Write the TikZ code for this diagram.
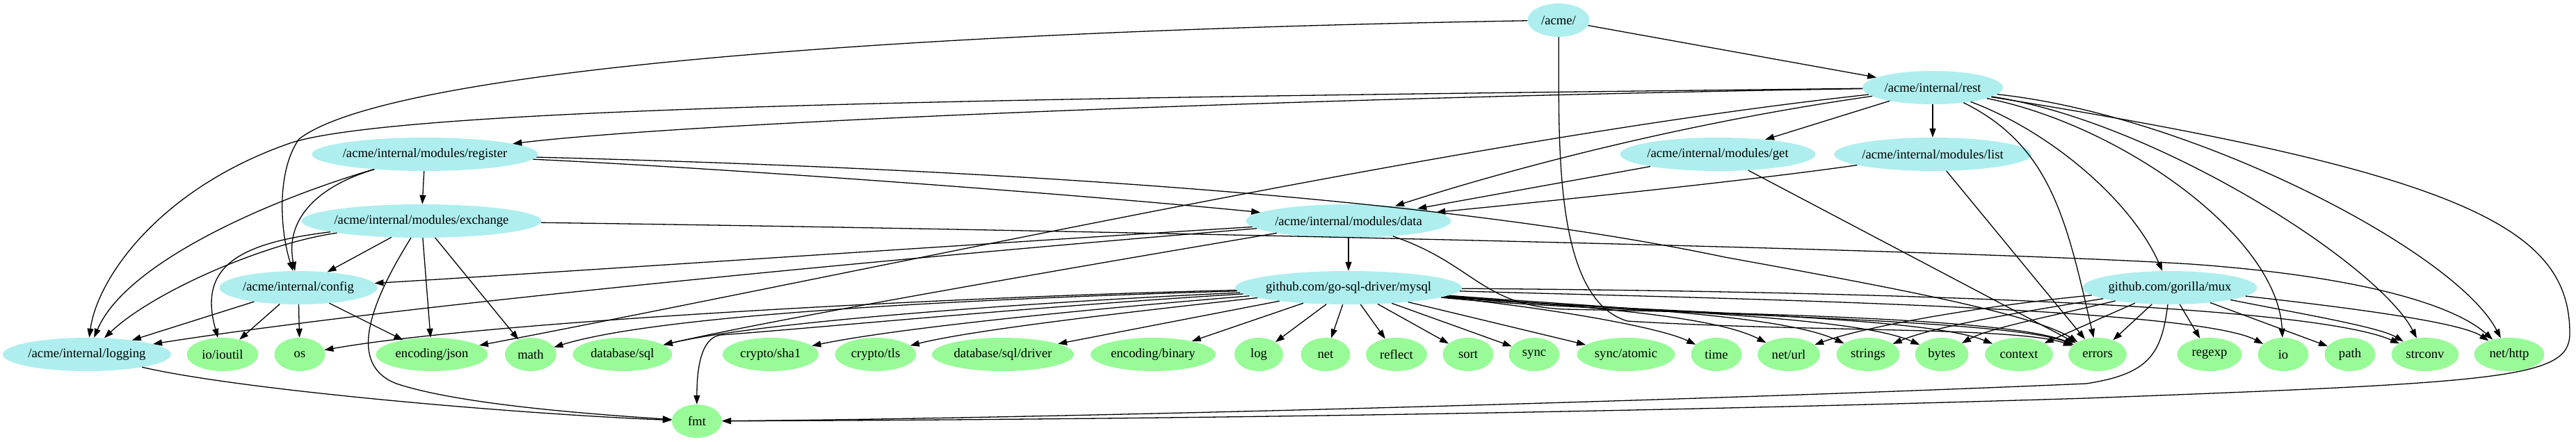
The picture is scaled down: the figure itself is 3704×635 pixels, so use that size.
\documentclass[tikz,border=0pt]{standalone}
\usepackage{fontspec}
\setmainfont{Liberation Serif}
\usetikzlibrary{shapes.geometric,arrows.meta}
\definecolor{gvblue}{HTML}{AFEEEE}
\definecolor{gvgreen}{HTML}{98FB98}
\tikzset{
  every node/.style={font=\fontsize{18.67}{22}\selectfont},
  mod/.style={ellipse, fill=gvblue, inner xsep=-8pt, inner ysep=0pt, minimum height=48pt},
  lib/.style={ellipse, fill=gvgreen, inner xsep=-8pt, inner ysep=0pt, minimum height=48pt},
  dep/.style={-{Triangle[length=13pt,width=9pt]}, line width=1.3pt},
}
\begin{document}
\begin{tikzpicture}[x=1pt,y=-1pt]
\useasboundingbox (0,0) rectangle (3704,635);
% modules
\node[mod, minimum width=89pt]  (acme)     at (2241,29)  {/acme/};
\node[mod, minimum width=202pt] (rest)     at (2779,126) {/acme/internal/rest};
\node[mod, minimum width=325pt] (register) at (611,222)  {/acme/internal/modules/register};
\node[mod, minimum width=281pt] (get)      at (2470,222) {/acme/internal/modules/get};
\node[mod, minimum width=284pt] (list)     at (2779,222) {/acme/internal/modules/list};
\node[mod, minimum width=345pt] (exchange) at (606,318)  {/acme/internal/modules/exchange};
\node[mod, minimum width=295pt] (data)     at (1939,318) {/acme/internal/modules/data};
\node[mod, minimum width=227pt] (config)   at (429,414)  {/acme/internal/config};
\node[mod, minimum width=326pt] (mysql)    at (1939,414) {github.com/go-sql-driver/mysql};
\node[mod, minimum width=251pt] (mux)      at (3120,414) {github.com/gorilla/mux};
\node[mod, minimum width=242pt] (logging)  at (125,510)  {/acme/internal/logging};
% libraries
\node[lib, minimum width=103pt] (ioutil)  at (320,510)  {io/ioutil};
\node[lib, minimum width=73pt]  (os)      at (431,510)  {os};
\node[lib, minimum width=161pt] (json)    at (621,510)  {encoding/json};
\node[lib, minimum width=74pt]  (math)    at (763,510)  {math};
\node[lib, minimum width=143pt] (dbsql)   at (895,510)  {database/sql};
\node[lib, minimum width=138pt] (sha1)    at (1108,510) {crypto/sha1};
\node[lib, minimum width=117pt] (tls)     at (1259,510) {crypto/tls};
\node[lib, minimum width=204pt] (driver)  at (1442,510) {database/sql/driver};
\node[lib, minimum width=180pt] (binary)  at (1658,510) {encoding/binary};
\node[lib, minimum width=70pt]  (log)     at (1810,510) {log};
\node[lib, minimum width=71pt]  (net)     at (1906,510) {net};
\node[lib, minimum width=88pt]  (reflect) at (2008,510) {reflect};
\node[lib, minimum width=73pt]  (sort)    at (2111,510) {sort};
\node[lib, minimum width=73pt]  (sync)    at (2206,510) {sync};
\node[lib, minimum width=141pt] (atomic)  at (2338,510) {sync/atomic};
\node[lib, minimum width=73pt]  (time)    at (2468,510) {time};
\node[lib, minimum width=90pt]  (url)     at (2572,510) {net/url};
\node[lib, minimum width=91pt]  (strings) at (2686,510) {strings};
\node[lib, minimum width=77pt]  (bytes)   at (2792,510) {bytes};
\node[lib, minimum width=98pt]  (context) at (2903,510) {context};
\node[lib, minimum width=84pt]  (errors)  at (3016,510) {errors};
\node[lib, minimum width=93pt]  (regexp)  at (3177,510) {regexp};
\node[lib, minimum width=73pt]  (io)      at (3283,510) {io};
\node[lib, minimum width=73pt]  (path)    at (3379,510) {path};
\node[lib, minimum width=97pt]  (strconv) at (3487,510) {strconv};
\node[lib, minimum width=101pt] (http)    at (3608,510) {net/http};
\node[lib, minimum width=72pt]  (fmt)     at (1002,606) {fmt};

% /acme/
\draw[dep] (acme) -- (rest);
\draw[dep] (acme) .. controls (1300,45) and (560,100) .. (430,200) .. controls (398,245) and (402,330) .. (config);
\draw[dep] (acme) .. controls (2242,200) and (2232,430) .. (2340,462) .. controls (2600,478) and (2900,470) .. (errors);
% rest
\draw[dep] (rest) .. controls (1900,140) and (1000,175) .. (register);
\draw[dep] (rest) .. controls (1600,140) and (600,150) .. (420,205) .. controls (230,270) and (140,400) .. (logging);
\draw[dep] (rest) -- (get);
\draw[dep] (rest) -- (list);
\draw[dep] (rest) .. controls (2400,180) and (2150,250) .. (data);
\draw[dep] (rest) .. controls (2100,200) and (1300,380) .. (json);
\draw[dep] (rest) .. controls (2950,210) and (2972,320) .. (errors);
\draw[dep] (rest) .. controls (2950,190) and (3065,290) .. (mux);
\draw[dep] (rest) .. controls (3050,180) and (3275,340) .. (io);
\draw[dep] (rest) .. controls (3100,175) and (3420,380) .. (strconv);
\draw[dep] (rest) .. controls (3150,165) and (3530,360) .. (http);
\draw[dep] (rest) .. controls (3550,250) and (3695,330) .. (3695,480) .. controls (3695,545) and (3600,550) .. (3000,573) .. controls (2200,598) and (1500,604) .. (fmt);
% register
\draw[dep] (register) -- (exchange);
\draw[dep] (register) .. controls (450,270) and (410,320) .. (config);
\draw[dep] (register) .. controls (380,290) and (180,380) .. (logging);
\draw[dep] (register) .. controls (1000,240) and (1500,275) .. (data);
\draw[dep] (register) .. controls (1500,245) and (2100,290) .. (2480,370) .. controls (2700,410) and (2920,450) .. (errors);
% exchange
\draw[dep] (exchange) -- (config);
\draw[dep] (exchange) .. controls (380,350) and (220,420) .. (logging);
\draw[dep] (exchange) .. controls (340,350) and (285,385) .. (ioutil);
\draw[dep] (exchange) -- (json);
\draw[dep] (exchange) -- (math);
\draw[dep] (exchange) .. controls (530,440) and (500,525) .. (570,552) .. controls (660,582) and (850,596) .. (fmt);
\draw[dep] (exchange) .. controls (1500,330) and (2800,358) .. (3150,380) .. controls (3400,398) and (3530,440) .. (http);
% config
\draw[dep] (config) -- (logging);
\draw[dep] (config) -- (ioutil);
\draw[dep] (config) -- (os);
\draw[dep] (config) -- (json);
% data
\draw[dep] (data) -- (mysql);
\draw[dep] (data) .. controls (1500,345) and (800,392) .. (config);
\draw[dep] (data) .. controls (1400,362) and (600,435) .. (logging);
\draw[dep] (data) .. controls (1500,392) and (1100,462) .. (dbsql);
\draw[dep] (data) .. controls (2120,380) and (2130,440) .. (2250,445) .. controls (2600,452) and (2900,462) .. (errors);
% get, list
\draw[dep] (get) -- (data);
\draw[dep] (get) -- (errors);
\draw[dep] (list) .. controls (2500,262) and (2200,292) .. (data);
\draw[dep] (list) -- (errors);
% logging
\draw[dep] (logging) .. controls (350,562) and (750,596) .. (fmt);
% mysql
\draw[dep] (mysql) .. controls (1400,426) and (700,462) .. (os);
\draw[dep] (mysql) .. controls (1400,430) and (950,452) .. (math);
\draw[dep] (mysql) .. controls (1500,434) and (1100,462) .. (dbsql);
\draw[dep] (mysql) .. controls (1500,440) and (1150,474) .. (1036,482) .. controls (1008,486) and (1002,530) .. (fmt);
\draw[dep] (mysql) .. controls (1600,442) and (1300,470) .. (sha1);
\draw[dep] (mysql) .. controls (1650,446) and (1400,474) .. (tls);
\draw[dep] (mysql) -- (driver);
\draw[dep] (mysql) -- (binary);
\draw[dep] (mysql) -- (log);
\draw[dep] (mysql) -- (net);
\draw[dep] (mysql) -- (reflect);
\draw[dep] (mysql) -- (sort);
\draw[dep] (mysql) -- (sync);
\draw[dep] (mysql) -- (atomic);
\draw[dep] (mysql) .. controls (2200,440) and (2380,468) .. (time);
\draw[dep] (mysql) .. controls (2250,440) and (2460,452) .. (url);
\draw[dep] (mysql) .. controls (2300,442) and (2560,452) .. (strings);
\draw[dep] (mysql) .. controls (2300,446) and (2660,452) .. (bytes);
\draw[dep] (mysql) .. controls (2300,448) and (2760,452) .. (context);
\draw[dep] (mysql) .. controls (2300,452) and (2880,456) .. (errors);
\draw[dep] (mysql) .. controls (2400,428) and (3150,440) .. (io);
\draw[dep] (mysql) .. controls (2500,418) and (3300,430) .. (strconv);
% mux
\draw[dep] (mux) .. controls (2850,440) and (2680,470) .. (url);
\draw[dep] (mux) .. controls (2900,450) and (2780,470) .. (strings);
\draw[dep] (mux) .. controls (2950,455) and (2860,472) .. (bytes);
\draw[dep] (mux) -- (context);
\draw[dep] (mux) -- (errors);
\draw[dep] (mux) .. controls (3108,510) and (3090,538) .. (3000,552) .. controls (2400,578) and (1500,602) .. (fmt);
\draw[dep] (mux) -- (regexp);
\draw[dep] (mux) -- (path);
\draw[dep] (mux) .. controls (3300,450) and (3420,470) .. (strconv);
\draw[dep] (mux) .. controls (3400,445) and (3540,465) .. (http);
\end{tikzpicture}
\end{document}
